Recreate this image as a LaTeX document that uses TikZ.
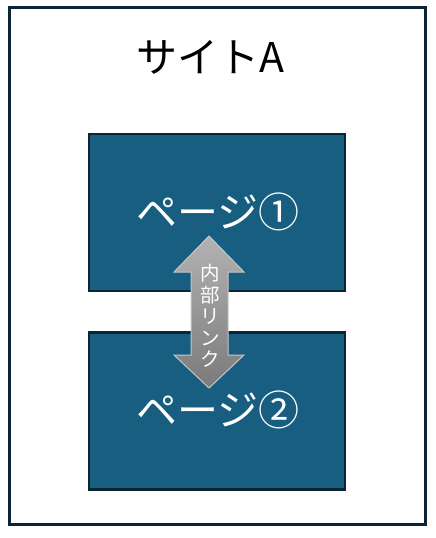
\documentclass[tikz,border=0pt]{standalone}
\usepackage{fontspec}
\setmainfont{Noto Sans CJK JP}
\definecolor{frame}{HTML}{0B2535}
\definecolor{pagefill}{HTML}{175E80}
\tikzset{
  x=1pt,y=-1pt,
  pagebox/.style={draw=frame,line width=2.5pt,fill=pagefill,minimum width=256pt,minimum height=157pt,inner sep=0pt},
  pagelabel/.style={text=white,font=\fontsize{41}{46}\selectfont},
}
\begin{document}
\begin{tikzpicture}
\useasboundingbox (0,0) rectangle (436,538);
\node[draw=frame,line width=2.5pt,minimum width=416pt,minimum height=517pt,inner sep=0pt] (site) at (217.5,266) {};
\node[font=\fontsize{41}{46}\selectfont] (title) at (210,57) {サイトA};
\node[pagebox] (p1) at (217,212.5) {};
\node[pagebox] (p2) at (217,411) {};
\node[pagelabel] (l1) at (218,212) {ページ①};
\node[pagelabel] (l2) at (218,410) {ページ②};
\path[draw=gray!45,line width=1pt,top color=black!30,bottom color=black!52]
  (209,236) -- (244,272) -- (228,272) -- (228,355) -- (244,355) -- (209,388)
  -- (174,355) -- (191,355) -- (191,272) -- (174,272) -- cycle;
\node[text=white,font=\fontsize{19.5}{21.5}\selectfont,align=center,inner sep=0pt] (link) at (210,316) {内\\部\\リ\\ン\\ク};
\end{tikzpicture}
\end{document}
